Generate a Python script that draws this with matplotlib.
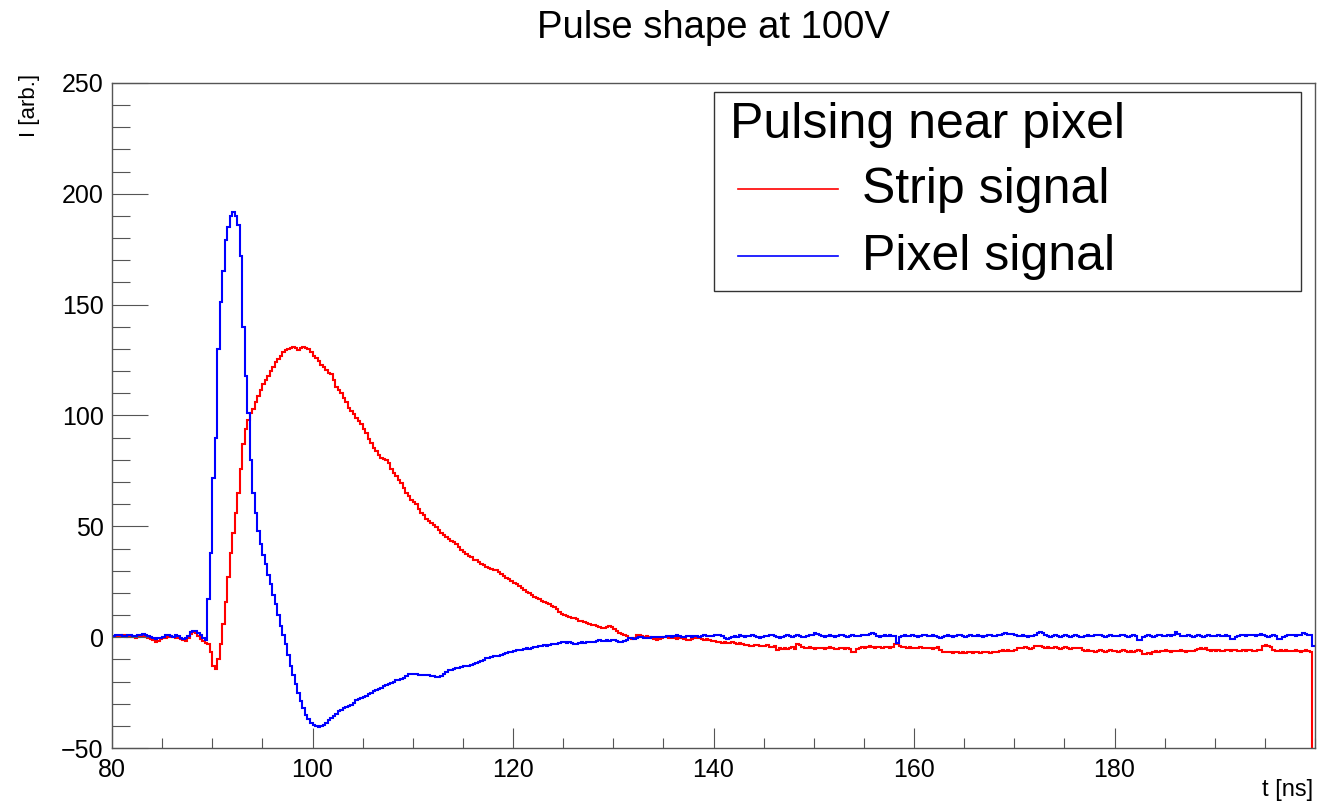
import numpy as np
import matplotlib
matplotlib.use("Agg")
import matplotlib.pyplot as plt
from matplotlib.ticker import MultipleLocator
from matplotlib.lines import Line2D
from matplotlib.patches import Rectangle

plt.rcParams['font.family'] = ['Liberation Sans', 'DejaVu Sans']

# --- DATA (0.25 ns bins from 80 to 200 ns) ---
T_START = 80.0
BIN_WIDTH = 0.25

title = "Pulse shape at 100V"
legend_title = "Pulsing near pixel"
labels = ["Strip signal", "Pixel signal"]

pixel_signal = [
    # 80-85
    0.5, 1.0, 0.8, 1.2, 0.6, 0.3, 0.9, 1.1, 0.7, 0.4, 0.8, 1.2, 1.5, 1.0, 0.6, 0.2, -0.4, -0.8, -0.5, -0.2,
    # 85-90
    0.2, 0.8, 1.0, 0.5, 0.3, 0.8, 0.5, -0.3, -0.8, -0.5, 0.5, 2.5, 3.0, 2.6, 1.8, 0.8, -0.5, -1.2, 17, 38,
    # 90-95
    72, 90, 130, 151, 165, 179, 185, 190, 192, 190, 186, 172, 140, 118, 101, 80, 65, 56, 48, 42,
    # 95-100
    37, 33, 28, 24, 19, 15, 10, 5, 1, -3, -8, -13, -17, -21, -25, -29, -32, -35, -37, -38.5,
    # 100-105
    -39.5, -40, -40.5, -40, -39.5, -38.5, -37.5, -36.5, -35.5, -34.5, -33.5, -33, -32, -31.5, -31, -30.5, -29.5, -28.5, -28, -27.5,
    # 105-110
    -27, -26.5, -25.5, -25, -24.5, -24, -23.5, -23, -22, -21.5, -21, -20.5, -20, -19.5, -19.5, -19, -18.5, -17.5, -16.5, -16.5,
    # 110-115
    -16.5, -16.8, -17, -17, -17.2, -17, -17, -17.3, -17.5, -17.8, -18, -17.5, -16.5, -15.5, -15, -14.8, -14.5, -14, -13.8, -13.5,
    # 115-120
    -13.2, -13, -12.8, -12.5, -12, -11.5, -11, -10.6, -10.2, -9.6, -9.2, -8.8, -8.6, -8.5, -8.3, -8.1, -7.6, -7.2, -6.9, -6.6,
    # 120-125
    -6.3, -6.0, -5.8, -5.9, -5.5, -5.0, -5.2, -4.8, -4.4, -4.6, -4.2, -4.0, -3.6, -3.8, -3.4, -3.0, -2.9, -3.1, -2.6, -2.4,
    # 125-130
    -2.4, -2.8, -2.2, -2.6, -2.9, -3.0, -2.7, -2.4, -2.6, -2.2, -2.0, -2.3, -2.1, -1.8, -1.5, -1.9, -1.7, -1.4, -1.6, -1.2,
    # 130-135
    -1.4, -1.6, -2.1, -2.3, -1.8, -1.2, -0.6, -0.4, -0.8, -0.2, 0.0, 0.3, -0.2, -0.6, -0.3, 0.0, 0.2, -0.1, 0.3, 0.1,
    # 135-140
    0.1, 0.4, 0.6, 0.3, 0.6, 0.8, 0.5, 0.2, 0.1, 0.4, 0.6, 0.3, 0.7, 0.5, 0.2, 0.6, 0.9, 0.6, 0.4, 0.7,
    # 140-145
    0.9, 1.1, 0.8, 0.5, -0.6, -1.0, -0.4, 0.2, 0.5, 0.3, 0.8, 0.6, 0.2, 0.4, 0.7, 0.9, 0.5, 0.1, -0.2, 0.3,
    # 145-150
    0.6, 0.4, 0.8, 1.0, 0.7, 0.2, -0.3, 0.1, 0.5, 0.8, 0.6, 0.3, 0.7, 0.9, 0.4, 0.0, 0.3, 0.6, 0.8, 1.1,
    # 150-155
    1.8, 1.5, 0.9, 0.6, 0.2, 0.5, 0.8, 0.6, 0.3, 0.7, 1.0, 0.8, 0.4, 0.1, 0.5, 0.9, 0.7, 0.4, 0.6, 1.0,
    # 155-160
    1.2, 0.9, 1.4, 2.0, 1.3, 0.6, 0.3, 0.5, 0.8, 0.6, 0.9, 0.7, 0.4, -2.5, 0.2, 0.6, 0.9, 0.7, 0.4, 0.8,
    # 160-165
    0.6, 0.3, 0.7, 1.0, 0.8, 0.4, 0.6, 0.9, 0.7, 0.2, -0.2, 0.1, 0.5, 0.8, 0.6, 0.3, 0.7, 1.0, 0.8, 0.5,
    # 165-170
    0.2, 0.6, 0.9, 0.7, 0.4, 0.8, 0.5, 0.2, 0.6, 0.9, 1.1, 0.7, 0.4, 0.8, 1.2, 1.5, 1.7, 1.4, 1.6, 1.3,
    # 170-175
    0.8, 0.5, 0.7, 1.0, 0.6, 0.3, 0.7, 0.5, 1.2, 1.8, 2.2, 1.9, 1.1, 0.6, 0.3, 0.5, 0.8, 0.6, 0.3, 0.7,
    # 175-180
    0.9, 0.6, 0.3, 0.7, 1.0, 0.5, -0.1, 0.2, 0.6, 0.9, 0.7, 0.4, 0.8, 1.1, 0.8, 0.5, 0.3, 0.6, 0.9, 0.7,
    # 180-185
    0.4, 0.7, 1.0, 0.8, 0.5, 0.2, 0.6, 0.9, 0.4, -1.4, -1.2, 0.2, 0.6, 0.8, 0.5, 0.3, 0.7, 1.0, 0.8, 0.5,
    # 185-190
    0.7, 1.0, 0.6, 0.9, 2.4, 1.4, 0.7, 0.4, 0.6, 0.9, 0.6, 0.2, 0.5, 0.8, 0.6, 0.3, 0.7, 1.0, 0.7, 0.4,
    # 190-195
    0.6, 0.9, 0.7, 0.4, 0.8, 0.5, -1.0, -0.8, 0.3, 0.7, 1.0, 0.8, 0.5, 0.9, 1.2, 0.9, 0.6, 1.0, 1.3, 1.0,
    # 195-200
    0.6, 0.3, 0.7, 0.9, 0.6, -1.0, -0.8, 0.2, 0.6, 0.9, 1.2, 0.8, 0.5, 0.9, 1.2, 1.7, 1.5, 0.8, 1.2, -4.0,
]

strip_signal = [
    # 80-85
    0.3, 0.5, 0.2, 0.6, 0.8, 0.4, 0.2, 0.5, 0.3, -0.2, 0.1, 0.4, 0.6, 0.2, -0.3, -0.8, -1.5, -2.0, -1.6, -1.0,
    # 85-90
    -0.6, -0.2, 0.3, 0.6, 0.2, -0.3, -0.5, -1.0, -1.4, -1.8, -0.5, 1.5, 2.2, 1.8, 0.5, -0.8, -1.8, -2.5, -3.0, -6.5,
    # 90-95
    -13, -14.5, -10, -3, 6, 16, 27, 38, 47, 56, 65, 76, 87, 94, 98, 101, 103, 106, 109, 111.5,
    # 95-100
    114, 116, 118, 120, 122, 124, 125.5, 127, 128.5, 129.5, 130, 130.5, 131, 130.5, 129.5, 130.5, 131, 130.5, 130, 128.5,
    # 100-105
    127, 126, 124.5, 123, 122, 120.5, 119, 118.5, 116, 113, 111.5, 110, 108, 106, 103.5, 102, 100.5, 99, 97.5, 96,
    # 105-110
    94, 92, 89.5, 87.5, 85.5, 84, 82, 81, 80.5, 80, 78.5, 76, 74, 72.5, 71, 69.5, 67.5, 65, 63.5, 62,
    # 110-115
    61, 60, 58, 56, 55, 53.5, 52.5, 51.5, 50.5, 49.8, 48.5, 47, 46, 45, 44.5, 43.5, 43, 42, 40.5, 39.5,
    # 115-120
    38.3, 37.5, 36.8, 36, 35, 34.7, 34, 33.2, 32.5, 31.5, 31, 30.8, 30.5, 30.2, 29.5, 28.5, 27.5, 26.8, 26.3, 25.5,
    # 120-125
    24.5, 23.8, 23, 22, 21.2, 20.5, 19.8, 19, 18.2, 17.5, 17, 16.5, 16, 15.5, 15, 14.2, 13.6, 12.5, 11.5, 10.6,
    # 125-130
    10, 9.5, 9, 8.8, 8.6, 8.2, 7.5, 7.2, 6.9, 6.5, 6, 5.6, 5.4, 5, 4.6, 4.2, 4, 4.6, 5.2, 4.5,
    # 130-135
    3.5, 2.8, 2, 1.5, 1.2, 0.5, -0.5, -0.8, -0.2, 0.8, 1.2, 0.6, 0.2, 0.4, 0.0, -0.5, -1.0, -1.3, -0.8, -0.3,
    # 135-140
    0.0, 0.3, -0.2, -0.6, -0.4, -0.8, -0.5, -0.2, -0.7, -1.1, -1.4, -1.0, -0.6, -0.3, -0.6, -1.0, -1.3, -0.9, -1.2, -1.6,
    # 140-145
    -1.8, -2.0, -2.3, -2.6, -2.2, -2.5, -2.8, -2.4, -2.6, -2.9, -2.7, -3.2, -3.6, -3.4, -3.9, -4.1, -3.7, -3.5, -3.9, -4.2,
    # 145-150
    -4.0, -3.7, -4.3, -4.4, -4.0, -5.9, -5.1, -5.3, -4.9, -5.2, -5.0, -4.6, -5.2, -3.2, -3.4, -4.4, -4.8, -5.0, -4.6, -4.9,
    # 150-155
    -5.3, -5.0, -4.7, -5.1, -5.4, -4.9, -4.6, -5.0, -5.5, -5.2, -4.8, -5.1, -5.4, -5.0, -5.3, -6.9, -6.6, -5.2, -4.9, -4.6,
    # 155-160
    -4.8, -4.5, -4.2, -4.6, -4.9, -4.5, -4.3, -4.7, -4.4, -4.6, -4.8, -4.5, -3.2, -3.0, -3.8, -4.3, -4.6, -4.9, -4.5, -4.8,
    # 160-165
    -5.0, -4.7, -4.4, -4.8, -5.1, -4.7, -4.9, -5.2, -4.8, -4.6, -5.6, -6.5, -6.8, -6.5, -6.9, -7.1, -6.7, -6.9, -7.3, -6.8,
    # 165-170
    -7.0, -6.7, -6.9, -7.2, -6.6, -6.9, -7.1, -6.8, -6.5, -6.9, -7.2, -6.8, -6.5, -6.9, -6.2, -6.0, -6.3, -6.0, -6.4, -6.2,
    # 170-175
    -5.6, -5.0, -4.7, -5.1, -4.6, -4.9, -5.2, -4.8, -4.1, -3.9, -4.0, -4.5, -4.8, -4.4, -4.7, -5.0, -4.6, -4.9, -5.3, -4.9,
    # 175-180
    -4.6, -4.9, -5.2, -4.8, -5.1, -4.7, -5.0, -5.9, -6.2, -6.0, -6.4, -6.1, -6.5, -6.2, -5.9, -6.3, -6.6, -6.2, -6.0, -6.4,
    # 180-185
    -6.1, -6.5, -6.2, -6.0, -6.4, -6.6, -6.2, -6.5, -6.3, -6.0, -6.4, -7.4, -7.6, -7.3, -7.4, -6.6, -6.3, -6.5, -6.2, -6.4,
    # 185-190
    -6.0, -6.3, -6.5, -6.1, -6.4, -6.2, -5.9, -6.3, -6.5, -6.1, -6.4, -6.2, -6.0, -5.2, -5.0, -5.3, -5.1, -5.9, -6.2, -6.0,
    # 190-195
    -6.3, -5.9, -6.1, -6.4, -6.0, -5.8, -6.2, -6.0, -5.7, -6.1, -6.3, -5.9, -6.2, -6.0, -5.8, -6.1, -6.4, -6.0, -5.7, -3.8,
    # 195-200
    -3.6, -3.9, -4.4, -5.8, -6.1, -6.3, -6.0, -6.2, -5.9, -6.3, -6.1, -6.4, -6.0, -6.2, -6.5, -6.1, -5.9, -6.3, -6.6, -60.0,
]

W, H = 1320, 806
FRAME = "#555555"

edges = T_START + BIN_WIDTH * np.arange(len(pixel_signal) + 1)

fig = plt.figure(figsize=(W / 100, H / 100), dpi=100)
ax = fig.add_axes([112 / W, 1 - 748 / H, (1315 - 112) / W, (748 - 83) / H])

ax.stairs(strip_signal, edges, color="#ff0000", linewidth=1.5, baseline=None)
ax.stairs(pixel_signal, edges, color="#0000ff", linewidth=1.5, baseline=None)

ax.set_xlim(80, 200)
ax.set_ylim(-50, 250)
ax.set_xticks(np.arange(80, 181, 20))
ax.xaxis.set_minor_locator(MultipleLocator(5))
ax.yaxis.set_major_locator(MultipleLocator(50))
ax.yaxis.set_minor_locator(MultipleLocator(10))

for s in ax.spines.values():
    s.set_color(FRAME)
    s.set_linewidth(1)

ax.tick_params(axis="both", which="both", direction="in", top=False, right=False,
               color=FRAME, width=0.8, labelsize=18, labelcolor="black")
ax.tick_params(axis="x", which="major", length=14.4, pad=7)
ax.tick_params(axis="x", which="minor", length=7.2)
ax.tick_params(axis="y", which="major", length=26, pad=6)
ax.tick_params(axis="y", which="minor", length=13)

# titles
fig.text(713 / W, 1 - 28 / H, title, ha="center", va="center", fontsize=27.5)
fig.text(30 / W, 1 - 74 / H, "I [arb.]", rotation=90, ha="center", va="top", fontsize=16)
fig.text(1313 / W, 1 - 790 / H, "t [ns]", ha="right", va="center", fontsize=17)

# legend box (ROOT-style TLegend)
fig.add_artist(Rectangle((714 / W, 1 - 291 / H), (1301 - 714) / W, (291 - 92) / H,
                         transform=fig.transFigure, facecolor="white", edgecolor="#333333",
                         linewidth=1, zorder=5))
fig.text(730 / W, 1 - 125 / H, legend_title, ha="left", va="center", fontsize=36, zorder=6)
for lab, col, yy in zip(labels, ["#ff0000", "#0000ff"], [189, 256]):
    fig.add_artist(Line2D([738 / W, 838 / W], [1 - yy / H, 1 - yy / H],
                          transform=fig.transFigure, color=col, linewidth=1.2, zorder=6))
    fig.text(862 / W, 1 - (yy + 1) / H, lab, ha="left", va="center", fontsize=36, zorder=6)

fig.savefig("out.png", dpi=100)
